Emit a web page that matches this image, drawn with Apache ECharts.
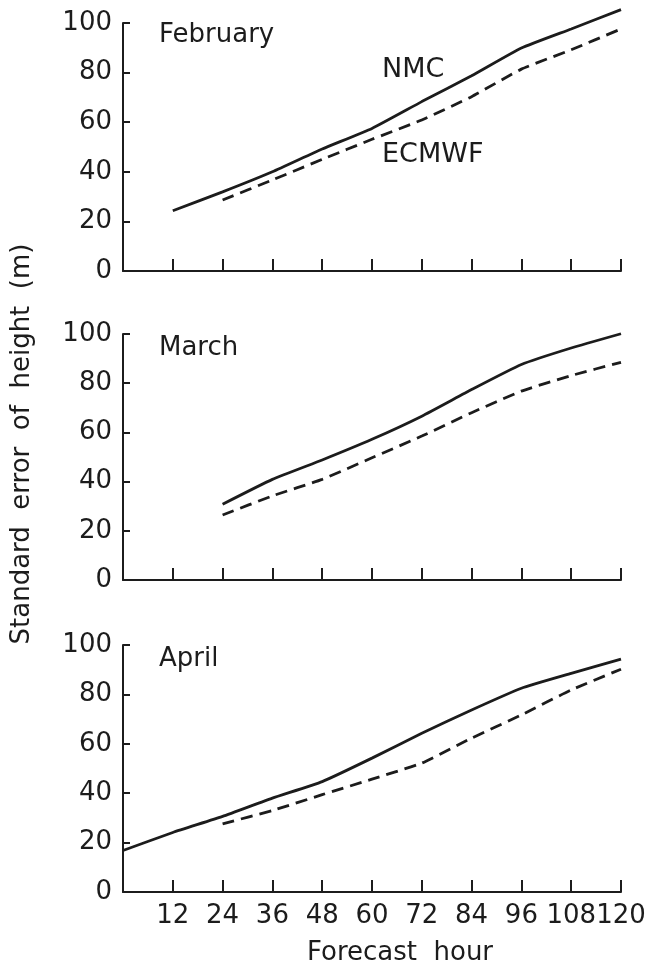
<!DOCTYPE html>
<html><head><meta charset="utf-8">
<script src="https://cdn.jsdelivr.net/npm/echarts@6/dist/echarts.min.js"></script>
<style>html,body{margin:0;padding:0;background:#fff}#c{width:656px;height:969px}</style>
</head><body><div id="c"></div>
<script>
const hours = [0, 12, 24, 36, 48, 60, 72, 84, 96, 108, 120];
const yTicks = [0, 20, 40, 60, 80, 100];
const panelNames = ['February', 'March', 'April'];
const seriesNames = ['NMC', 'ECMWF'];
const febNMC   = [null, 24.3, 31.9, 40.0, 49.2, 57.5, 68.3, 78.7, 89.9, 97.6, 105.4];
const febECMWF = [null, null, 28.6, 36.7, 45.0, 53.1, 60.9, 70.3, 81.4, 89.2, 97.6];
const marNMC   = [null, null, 30.8, 40.9, 48.8, 57.2, 66.6, 77.4, 87.6, 94.3, 100.1];
const marECMWF = [null, null, 26.4, 34.2, 40.9, 49.7, 58.5, 68.0, 76.8, 83.1, 88.5];
const aprNMC   = [16.8, 24.1, 30.6, 38.0, 44.7, 54.2, 64.3, 73.7, 82.5, 88.5, 94.3];
const aprECMWF = [null, null, 27.6, 33.0, 39.4, 45.7, 52.2, 62.3, 71.7, 81.8, 90.2];
const yTitle = 'Standard  error  of  height  (m)';
const xTitle = 'Forecast  hour';

const FONT = 'DejaVu Sans';
const INK = '#1c1c1c';
const panels = [[febNMC, febECMWF], [marNMC, marECMWF], [aprNMC, aprECMWF]];
const grids = [
  {left: 123, top: 23, width: 498, height: 248},
  {left: 123, top: 334, width: 498, height: 246},
  {left: 123, top: 645, width: 498, height: 247}
];
const pair = arr => hours.map((h, i) => [h, arr[i]]);

const option = {
  animation: false,
  backgroundColor: '#fff',
  grid: grids,
  xAxis: grids.map((g, i) => ({
    type: 'value', gridIndex: i, min: 0, max: 120, interval: 12,
    axisLine: {show: true, lineStyle: {color: INK, width: 2}},
    axisTick: {show: true, inside: true, length: 12, lineStyle: {color: INK, width: 2}},
    axisLabel: {show: i === 2, showMinLabel: false, color: INK, fontFamily: FONT, fontSize: 26, margin: 11},
    splitLine: {show: false}
  })),
  yAxis: grids.map((g, i) => ({
    type: 'value', gridIndex: i, min: yTicks[0], max: yTicks[yTicks.length - 1], interval: 20,
    axisLine: {show: true, lineStyle: {color: INK, width: 2}},
    axisTick: {show: true, inside: true, length: 7, lineStyle: {color: INK, width: 2}},
    axisLabel: {color: INK, fontFamily: FONT, fontSize: 26, margin: 11},
    splitLine: {show: false}
  })),
  series: [],
  graphic: []
};

panels.forEach((p, i) => {
  p.forEach((arr, k) => {
    option.series.push({
      type: 'line', name: seriesNames[k], xAxisIndex: i, yAxisIndex: i,
      data: pair(arr), symbol: 'none', clip: false, smooth: 0.15,
      lineStyle: {color: INK, width: 2.8, type: k === 0 ? 'solid' : [12, 7]}
    });
  });
  option.graphic.push({
    type: 'text', left: 159, top: grids[i].top + (i === 0 ? -1 : 1),
    style: {text: panelNames[i], font: '26px "' + FONT + '"', fill: INK}
  });
});

option.graphic.push(
  {type: 'text', left: 382, top: 56, style: {text: seriesNames[0], font: '27px "' + FONT + '"', fill: INK}},
  {type: 'text', left: 382, top: 141, style: {text: seriesNames[1], font: '27px "' + FONT + '"', fill: INK}},
  {type: 'text', x: 22, y: 444, rotation: Math.PI / 2,
   style: {text: yTitle, font: '26px "' + FONT + '"', fill: INK, textAlign: 'center', textVerticalAlign: 'middle'}},
  {type: 'text', x: 400, y: 953,
   style: {text: xTitle, font: '26px "' + FONT + '"', fill: INK, textAlign: 'center', textVerticalAlign: 'middle'}}
);

const chart = echarts.init(document.getElementById('c'), null, {renderer: 'canvas'});
chart.setOption(option);
</script>
</body></html>
